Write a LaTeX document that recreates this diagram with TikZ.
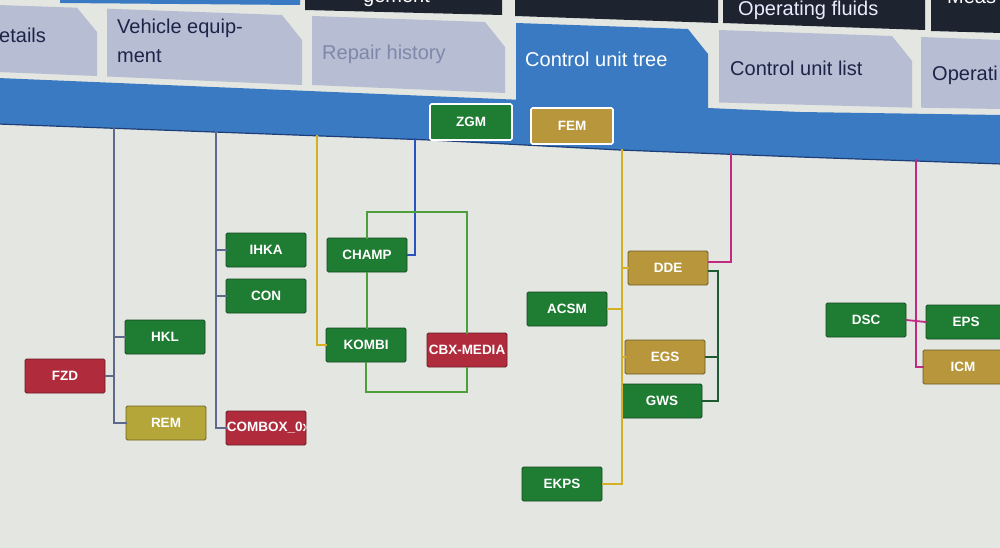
\documentclass[tikz,border=0pt]{standalone}
\usepackage{fontspec}
\setmainfont{Liberation Sans}
\definecolor{bgc}{HTML}{E4E6E2}
\definecolor{toptabc}{HTML}{1E2330}
\definecolor{tabc}{HTML}{B7BDD3}
\definecolor{bandc}{HTML}{3A7AC2}
\definecolor{bandedge}{HTML}{1E3E78}
\definecolor{tabtext}{HTML}{1C2448}
\definecolor{tabgrey}{HTML}{7E88A8}
\definecolor{ecugreen}{HTML}{1F7C33}
\definecolor{ecured}{HTML}{B02B3C}
\definecolor{ecugold}{HTML}{B8973C}
\definecolor{ecuolive}{HTML}{B5A63A}
\definecolor{busgrey}{HTML}{5E6A8C}
\definecolor{busyellow}{HTML}{D6B024}
\definecolor{busblue}{HTML}{2A52C0}
\definecolor{busmag}{HTML}{C02A80}
\definecolor{busdark}{HTML}{1E5A32}
\definecolor{busmost}{HTML}{4E9E3E}
\newcommand\tabsize{\fontsize{20}{29}\selectfont}
\newcommand\ecusize{\fontsize{13.5}{16}\selectfont\bfseries}
\tikzset{
  ecubox/.style={rectangle, rounded corners=1.5pt, minimum width=80pt, minimum height=34pt,
    inner sep=0pt, text=white, font=\ecusize, line width=0.8pt},
  ecuG/.style={ecubox, fill=ecugreen, draw=ecugreen!60!black},
  ecuR/.style={ecubox, fill=ecured, draw=ecured!60!black},
  ecuY/.style={ecubox, fill=ecugold, draw=ecugold!60!black},
  ecuO/.style={ecubox, fill=ecuolive, draw=ecuolive!60!black},
  gateway/.style={draw=white, line width=1.6pt, minimum width=82pt, minimum height=36pt},
  tabshape/.style={fill=tabc},
  tablabel/.style={font=\tabsize, inner sep=0pt, anchor=base west, text=tabtext},
  buswire/.style={line width=1.8pt, line cap=rect},
}
\begin{document}
\begin{tikzpicture}[x=1pt,y=-1pt]
\useasboundingbox (0,0) rectangle (1000,548);
\clip (0,0) rectangle (1000,548);
\fill[bgc] (0,0) rectangle (1000,548);

% top dark tab row
\fill[bandc] (60,-2) -- (300,-2) -- (300,5) -- (60,3) -- cycle;
\fill[toptabc] (305,-2) -- (502,-2) -- (502,15) -- (305,10) -- cycle;
\fill[toptabc] (515,-2) -- (718,-2) -- (718,23) -- (515,16) -- cycle;
\fill[toptabc] (723,-2) -- (925,-2) -- (925,30) -- (723,23) -- cycle;
\fill[toptabc] (931,-2) -- (1002,-2) -- (1002,33) -- (931,31) -- cycle;
\node[tablabel, text=white] (tGem) at (363,3) {gement};
\node[tablabel, text=white!92!blue] (tFluid) at (738,16) {Operating fluids};
\node[tablabel, text=white] (tMeas) at (947,4) {Meas};

% grey tab row
\fill[tabshape] (-2,5) -- (77,7.7) -- (97,32) -- (97,76) -- (-2,72) -- cycle;
\fill[tabshape] (107,8.7) -- (282,15) -- (302,40) -- (302,85) -- (107,76.5) -- cycle;
\fill[tabshape] (312,16) -- (485,22) -- (505,47) -- (505,93) -- (312,85) -- cycle;
\fill[bandc] (516,23) -- (688,29) -- (708,54) -- (708,110) -- (516,101) -- cycle;
\fill[tabshape] (719,30) -- (892,36) -- (912,61) -- (912,107.6) -- (719,102.5) -- cycle;
\fill[tabshape] (921,37) -- (1002,40) -- (1002,109) -- (921,107.7) -- cycle;

\node[tablabel] (tDet) at (-1,43) {etails};
\node[tablabel, align=left, anchor=north west] (tVeh) at (117,19) {Vehicle equip-\\ment};
\node[tablabel, text=tabgrey] (tRep) at (322,60) {Repair history};
\node[tablabel, text=white] (tTree) at (525,67) {Control unit tree};
\node[tablabel] (tList) at (730,76) {Control unit list};
\node[tablabel] (tOp) at (932,81) {Operati};

% blue band
\fill[bandc] (-2,78) -- (500,99) -- (800,112) -- (1002,115) -- (1002,164) -- (800,157) -- (620,150) -- (430,140) -- (-2,124) -- cycle;
\draw[bandedge, line width=1.2pt] (-2,124) -- (430,140) -- (620,150) -- (800,157) -- (1002,164);

% gateways on the band
\node[ecuG, gateway] (ZGM) at (471,122) {ZGM};
\node[ecuY, gateway] (FEM) at (572,126) {FEM};

% control units
\node[ecuG] (IHKA) at (266,250) {IHKA};
\node[ecuG] (CON) at (266,296) {CON};
\node[ecuG] (CHAMP) at (367,255) {CHAMP};
\node[ecuG] (HKL) at (165,337) {HKL};
\node[ecuR] (FZD) at (65,376) {FZD};
\node[ecuG] (KOMBI) at (366,345) {KOMBI};
\node[ecuR] (CBX) at (467,350) {CBX-MEDIA};
\node[ecuO] (REM) at (166,423) {REM};
\node[ecuR, path picture={\node[anchor=west, inner sep=0pt, text=white, font=\ecusize] (CBXtext) at ([xshift=0.5pt]path picture bounding box.west) {COMBOX\_0x};}] (COMBOX) at (266,428) {};
\node[ecuY] (DDE) at (668,268) {DDE};
\node[ecuG] (ACSM) at (567,309) {ACSM};
\node[ecuY] (EGS) at (665,357) {EGS};
\node[ecuG] (GWS) at (662,401) {GWS};
\node[ecuG] (EKPS) at (562,484) {EKPS};
\node[ecuG] (DSC) at (866,320) {DSC};
\node[ecuG] (EPS) at (966,322) {EPS};
\node[ecuY] (ICM) at (963,367) {ICM};

% bus taps on the band
\coordinate (b1) at (114,128);
\coordinate (b2) at (216,132);
\coordinate (b3) at (317,136);
\coordinate (b4) at (415,139);
\coordinate (b5) at (622,150);
\coordinate (b6) at (731,154);
\coordinate (b7) at (916,160);

% bus 1
\draw[buswire, busgrey] (b1) |- (REM.west);
\draw[buswire, busgrey] (HKL.west) -- (HKL.west -| b1);
\draw[buswire, busgrey] (FZD.east) -- (FZD.east -| b1);
% bus 2
\draw[buswire, busgrey] (b2) |- (COMBOX.west);
\draw[buswire, busgrey] (IHKA.west) -- (IHKA.west -| b2);
\draw[buswire, busgrey] (CON.west) -- (CON.west -| b2);
% bus 3
\draw[buswire, busyellow] (b3) |- (KOMBI.west);
% bus 4
\draw[buswire, busblue] (b4) |- (CHAMP.east);
% bus 5
\draw[buswire, busyellow] (b5) |- (EKPS.east);
\draw[buswire, busyellow] (DDE.west) -- (DDE.west -| b5);
\draw[buswire, busyellow] (ACSM.east) -- (ACSM.east -| b5);
\draw[buswire, busyellow] (EGS.west) -- (EGS.west -| b5);
\draw[buswire, busyellow] (GWS.west) -- (GWS.west -| b5);
% bus 6
\draw[buswire, busmag] (b6) |- ([yshift=6pt]DDE.east);
% DDE bracket
\coordinate (brx) at (718,0);
\draw[buswire, busdark] ([yshift=-3pt]DDE.east) -| (GWS.east -| brx) -- (GWS.east);
\draw[buswire, busdark] (EGS.east) -- (EGS.east -| brx);
% bus 7
\draw[buswire, busmag] (b7) |- (ICM.west);
\draw[buswire, busmag] (DSC.east) -- (EPS.west);

% MOST ring
\coordinate (rt) at (0,212);
\coordinate (rb) at (0,392);
\draw[buswire, busmost] (CHAMP.north) -- (CHAMP.north |- rt) -| (CBX.north);
\draw[buswire, busmost] (KOMBI.south) -- (KOMBI.south |- rb) -| (CBX.south);
\draw[buswire, busmost] (CHAMP.south) -- (CHAMP.south |- KOMBI.north);
\end{tikzpicture}
\end{document}
